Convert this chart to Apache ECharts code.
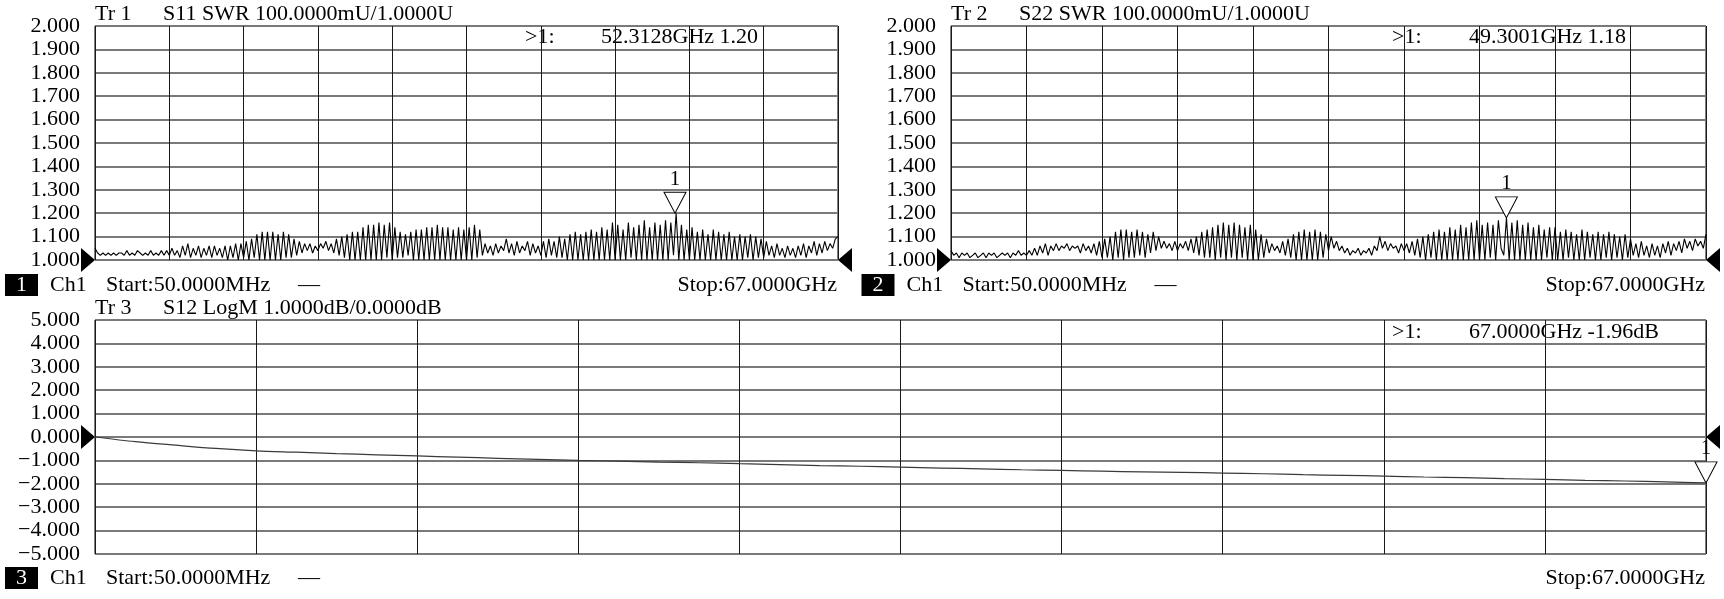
<!DOCTYPE html>
<html>
<head>
<meta charset="utf-8">
<script src="https://cdn.jsdelivr.net/npm/echarts/dist/echarts.min.js"></script>
<style>
html,body{margin:0;padding:0;background:#fff;}
#c{width:1724px;height:599px;}
</style>
</head>
<body>
<div id="c"></div>
<script>
// ---- sweep (instrument linear sweep, GHz) ----
const sweepStartGHz = 0.05;
const sweepStopGHz = 67;

// ---- Tr 1 : S11 SWR (281 sweep points, 28 per division) ----
const s11Swr = [
  1.05,1.03,1.02,1.03,1.02,1.03,1.02,1.03,1.02,1.03,1.03,1.02,1.04,1.02,1.03,1.02,1.04,1.03,1.02,1.03,1.02,1.04,1.02,1.03,1.02,1.04,1.02,1.04,
  1.02,1.05,1.02,1.04,1.01,1.06,1.02,1.07,1.01,1.05,1.02,1.06,1.01,1.05,1.02,1.06,1.01,1.06,1.02,1.05,1.01,1.06,1.00,1.06,1.01,1.07,1.00,1.07,
  1.01,1.08,1.00,1.09,1.01,1.11,1.00,1.12,1.00,1.12,1.00,1.12,1.00,1.11,1.00,1.12,1.01,1.11,1.01,1.09,1.02,1.08,1.03,1.07,1.04,1.07,1.03,1.06,
  1.04,1.07,1.05,1.08,1.04,1.07,1.03,1.09,1.02,1.10,1.01,1.11,1.00,1.12,1.00,1.12,1.00,1.14,1.00,1.15,1.00,1.15,1.00,1.16,1.00,1.15,1.01,1.16,
  1.00,1.14,1.01,1.12,1.01,1.11,1.02,1.12,1.00,1.13,1.00,1.13,1.00,1.14,1.00,1.14,1.00,1.15,1.00,1.14,1.00,1.14,1.00,1.13,1.00,1.14,1.00,1.13,
  1.00,1.14,1.00,1.15,1.01,1.13,1.02,1.07,1.03,1.06,1.02,1.07,1.03,1.06,1.04,1.09,1.03,1.07,1.02,1.08,1.03,1.06,1.04,1.08,1.02,1.07,1.03,1.06,
  1.02,1.08,1.01,1.09,1.02,1.08,1.01,1.10,1.01,1.09,1.00,1.11,1.00,1.12,1.00,1.11,1.00,1.12,1.00,1.13,1.00,1.12,1.00,1.14,1.00,1.13,1.00,1.16,
  1.00,1.15,1.00,1.13,1.00,1.16,1.01,1.14,1.00,1.15,1.00,1.17,1.00,1.14,1.00,1.16,1.00,1.15,1.00,1.17,1.00,1.16,1.02,1.20,1.00,1.15,1.00,1.13,
  1.00,1.14,1.00,1.12,1.00,1.13,1.00,1.11,1.00,1.13,1.00,1.12,1.00,1.11,1.00,1.12,1.00,1.10,1.00,1.11,1.00,1.10,1.01,1.11,1.00,1.10,1.01,1.09,
  1.01,1.08,1.02,1.06,1.01,1.07,1.02,1.05,1.01,1.06,1.02,1.05,1.01,1.06,1.02,1.07,1.01,1.06,1.03,1.08,1.02,1.07,1.03,1.08,1.04,1.07,1.05,1.09,
  1.10
];

// ---- Tr 2 : S22 SWR ----
const s22Swr = [
  1.04,1.02,1.03,1.01,1.03,1.02,1.03,1.01,1.02,1.03,1.01,1.02,1.03,1.01,1.03,1.02,1.03,1.01,1.02,1.03,1.02,1.03,1.01,1.03,1.02,1.04,1.02,1.03,
  1.02,1.04,1.02,1.05,1.02,1.06,1.03,1.07,1.02,1.06,1.04,1.07,1.04,1.06,1.05,1.07,1.04,1.06,1.05,1.06,1.03,1.07,1.04,1.06,1.03,1.07,1.02,1.08,
  1.01,1.09,1.01,1.10,1.00,1.12,1.01,1.13,1.00,1.13,1.01,1.12,1.01,1.13,1.02,1.12,1.01,1.11,1.03,1.12,1.04,1.10,1.05,1.08,1.05,1.07,1.04,1.08,
  1.04,1.07,1.05,1.08,1.04,1.09,1.03,1.10,1.02,1.12,1.01,1.13,1.01,1.14,1.00,1.15,1.01,1.16,1.00,1.15,1.01,1.16,1.00,1.15,1.01,1.14,1.00,1.15,
  1.00,1.13,1.00,1.11,1.01,1.09,1.03,1.07,1.04,1.06,1.03,1.08,1.02,1.09,1.01,1.11,1.00,1.12,1.00,1.13,1.00,1.12,1.00,1.13,1.00,1.12,1.01,1.11,
  1.04,1.10,1.05,1.08,1.04,1.06,1.03,1.05,1.02,1.04,1.03,1.05,1.02,1.04,1.03,1.05,1.02,1.06,1.04,1.10,1.05,1.08,1.04,1.07,1.05,1.06,1.03,1.07,
  1.04,1.07,1.03,1.08,1.02,1.09,1.01,1.10,1.00,1.11,1.01,1.12,1.00,1.13,1.00,1.12,1.00,1.14,1.00,1.13,1.00,1.15,1.00,1.14,1.00,1.16,1.00,1.17,
  1.00,1.15,1.00,1.16,1.01,1.15,1.00,1.17,1.05,1.02,1.18,1.00,1.16,1.00,1.17,1.00,1.15,1.00,1.16,1.00,1.14,1.00,1.15,1.00,1.13,1.01,1.14,1.00,
  1.14,1.00,1.12,1.00,1.13,1.01,1.12,1.00,1.11,1.00,1.13,1.00,1.12,1.01,1.11,1.00,1.12,1.00,1.11,1.01,1.12,1.00,1.11,1.01,1.10,1.00,1.11,1.01,
  1.09,1.02,1.07,1.01,1.08,1.02,1.06,1.01,1.07,1.02,1.06,1.01,1.07,1.03,1.08,1.02,1.07,1.04,1.08,1.03,1.09,1.05,1.08,1.04,1.09,1.06,1.08,1.05,
  1.11
];

// ---- Tr 3 : S12 LogM (dB), 41 sweep points ----
const s12LogM = [
  0.00,-0.20,-0.35,-0.49,-0.59,-0.65,-0.71,-0.76,-0.81,-0.86,-0.91,-0.96,-1.00,-1.03,-1.07,-1.10,
  -1.14,-1.18,-1.22,-1.25,-1.29,-1.33,-1.36,-1.40,-1.43,-1.46,-1.49,-1.51,-1.54,-1.57,-1.61,-1.64,
  -1.67,-1.71,-1.74,-1.78,-1.81,-1.85,-1.88,-1.92,-1.96
];

// ---- markers ----
const marker1 = { freq: 52.3128, value: 1.20 };
const marker2 = { freq: 49.3001, value: 1.18 };
const marker3 = { freq: 67.0000, value: -1.96 };

// ---- axis scales ----
const swrAxis = { min: 1.0, max: 2.0, interval: 0.1, ref: 1.0 };
const logAxis = { min: -5, max: 5, interval: 1, ref: 0 };
const divisions = 10;

// ---- texts ----
const headers = [
  ['Tr 1', 'S11 SWR 100.0000mU/1.0000U'],
  ['Tr 2', 'S22 SWR 100.0000mU/1.0000U'],
  ['Tr 3', 'S12 LogM 1.0000dB/0.0000dB']
];
const startText = 'Start:50.0000MHz';
const stopText = 'Stop:67.0000GHz';

function sweep(vals) {
  const n = vals.length - 1;
  return vals.map((v, i) => [sweepStartGHz + (sweepStopGHz - sweepStartGHz) * i / n, v]);
}

const FONT = "'Liberation Serif','Times New Roman',serif";
const chart = echarts.init(document.getElementById('c'), null, { renderer: 'canvas' });

const gridsPx = [
  { left: 95, top: 26, width: 743, height: 234 },
  { left: 951, top: 26, width: 755, height: 234 },
  { left: 95, top: 320, width: 1611, height: 234 }
];

const xAxes = [], yAxes = [];
gridsPx.forEach((g, i) => {
  xAxes.push({ gridIndex: i, type: 'value', min: sweepStartGHz, max: sweepStopGHz, show: false });
  xAxes.push({ gridIndex: i, type: 'value', min: 0, max: divisions, interval: 1,
    axisLine: { show: false }, axisTick: { show: false }, axisLabel: { show: false },
    splitLine: { show: true, lineStyle: { color: '#1a1a1a', width: 1 } } });
  const sc = i < 2 ? swrAxis : logAxis;
  yAxes.push({ gridIndex: i, type: 'value', min: sc.min, max: sc.max, interval: sc.interval,
    axisLine: { show: false }, axisTick: { show: false },
    axisLabel: { margin: 15, color: '#000', fontFamily: FONT, fontSize: 22,
      formatter: v => v.toFixed(3).replace('-', '\u2212') },
    splitLine: { show: true, lineStyle: { color: '#7a7a7a', width: 2 } } });
});

function markers(m, sc) {
  return {
    silent: true,
    animation: false,
    data: [
      { coord: [m.freq, m.value], symbol: 'path://M0,0L22,0L11,21Z', symbolSize: [22, 21],
        symbolOffset: [0, '-50%'], itemStyle: { color: '#fff', borderColor: '#000', borderWidth: 1 },
        label: { show: true, position: 'top', distance: 2, formatter: '1', color: '#000', fontFamily: FONT, fontSize: 21 } },
      { coord: [sweepStartGHz, sc.ref], symbol: 'path://M0,0L14,12L0,24Z', symbolSize: [14, 24],
        symbolOffset: ['-50%', 0], itemStyle: { color: '#000' }, label: { show: false } },
      { coord: [sweepStopGHz, sc.ref], symbol: 'path://M14,0L0,12L14,24Z', symbolSize: [14, 24],
        symbolOffset: ['50%', 0], itemStyle: { color: '#000' }, label: { show: false } }
    ]
  };
}

const series = [
  { type: 'line', xAxisIndex: 0, yAxisIndex: 0, data: sweep(s11Swr), showSymbol: false, symbol: 'none',
    lineStyle: { color: '#000', width: 1.1 }, markPoint: markers(marker1, swrAxis), z: 5 },
  { type: 'line', xAxisIndex: 2, yAxisIndex: 1, data: sweep(s22Swr), showSymbol: false, symbol: 'none',
    lineStyle: { color: '#000', width: 1.1 }, markPoint: markers(marker2, swrAxis), z: 5 },
  { type: 'line', xAxisIndex: 4, yAxisIndex: 2, data: sweep(s12LogM), showSymbol: false, symbol: 'none', smooth: 0.3,
    lineStyle: { color: '#3a3a3a', width: 1.2 }, markPoint: markers(marker3, logAxis), z: 5 }
];

function txt(x, y, s, opt) {
  return Object.assign({ type: 'text', x: x, y: y, silent: true,
    style: Object.assign({ text: s, fill: '#000', font: '22px ' + FONT, textVerticalAlign: 'middle', textAlign: 'left' }, opt || {}) });
}

const graphics = [];
// headers
[[95, 163, 14], [951, 1019, 14], [95, 163, 308]].forEach((p, i) => {
  graphics.push(txt(p[0], p[2], headers[i][0]));
  graphics.push(txt(p[1], p[2], headers[i][1]));
});
// readouts
function readout(m, unit) {
  return m.freq.toFixed(4) + 'GHz ' + m.value.toFixed(2) + unit;
}
graphics.push(txt(525, 37, '>1:'));
graphics.push(txt(601, 37, readout(marker1, '')));
graphics.push(txt(1392, 37, '>1:'));
graphics.push(txt(1469, 37, readout(marker2, '')));
graphics.push(txt(1392, 332, '>1:'));
graphics.push(txt(1469, 332, readout(marker3, 'dB')));
// footers
[[0, 285, '1', 837], [856.5, 285, '2', 1705], [0, 578, '3', 1705]].forEach(f => {
  const ox = f[0], y = f[1];
  graphics.push({ type: 'rect', silent: true, shape: { x: ox + 5, y: y - 11, width: 33, height: 22 }, style: { fill: '#000' } });
  graphics.push(txt(ox + 21.5, y, f[2], { fill: '#fff', textAlign: 'center' }));
  graphics.push(txt(ox + 50, y, 'Ch1'));
  graphics.push(txt(ox + 106, y, startText));
  graphics.push(txt(ox + 298, y, '\u2014'));
  graphics.push(txt(f[3], y, stopText, { textAlign: 'right' }));
});

chart.setOption({
  animation: false,
  backgroundColor: '#fff',
  grid: gridsPx.map(g => Object.assign({ show: true, borderColor: '#000', borderWidth: 1, containLabel: false }, g)),
  xAxis: xAxes,
  yAxis: yAxes,
  series: series,
  graphic: graphics
});
</script>
</body>
</html>
